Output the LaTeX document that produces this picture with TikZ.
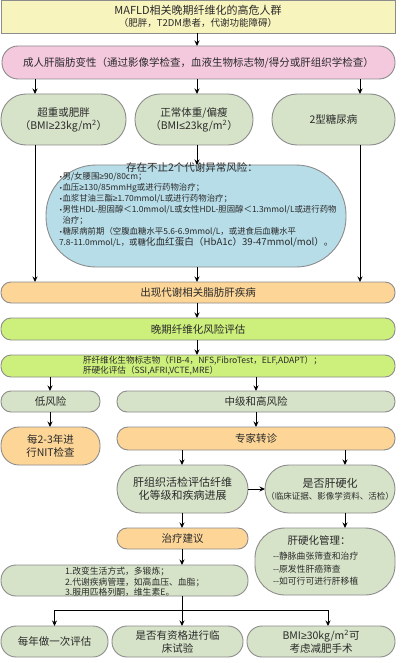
\documentclass[tikz,border=0pt]{standalone}
\usepackage{fontspec}
\setmainfont{Noto Sans CJK SC}
\newfontfamily\dvfont{DejaVu Sans}
\newfontfamily\lsfont{Liberation Sans}
\usetikzlibrary{arrows.meta}
\definecolor{yellowF}{HTML}{F8F4BE}
\definecolor{pinkF}{HTML}{F4C9DE}
\definecolor{greenF}{HTML}{D6E3C8}
\definecolor{blueF}{HTML}{B7DDE8}
\definecolor{orangeF}{HTML}{FCD597}
\definecolor{limeF}{HTML}{CDF07C}
\definecolor{bd}{HTML}{8C8C8C}
\definecolor{tx}{HTML}{2A2A2A}
\newcommand\szL{\fontsize{10.5pt}{13pt}\selectfont}
\newcommand\szB{\fontsize{11pt}{12.5pt}\selectfont}
\newcommand\szM{\fontsize{9.5pt}{11pt}\selectfont}
\newcommand\szS{\fontsize{8.4pt}{11pt}\selectfont}
\newcommand\bul{{\dvfont\fontsize{6pt}{6pt}\selectfont\raisebox{0.6pt}{•}}}
\newcommand\mge{{\lsfont ≥}}
\newcommand\mle{{\lsfont ≤}}
\begin{document}
\begin{tikzpicture}[x=1pt,y=-1pt,
  box/.style={draw=bd, line width=0.9pt, inner sep=0pt, outer sep=0pt, align=center, text=tx, font=\szL},
  lbl/.style={inner sep=0pt, outer sep=0pt, text=tx},
  arr/.style={-{Stealth[length=5.5pt,width=5pt]}, line width=0.9pt, draw=black},
  ln/.style={line width=0.9pt, draw=black}]
\useasboundingbox[fill=white] (0,0) rectangle (409,663);

% helper x positions
\coordinate (xa) at (35,0);
\coordinate (xb) at (197,0);
\coordinate (xc) at (360,0);
\coordinate (xd) at (50,0);
\coordinate (xe) at (256,0);
\coordinate (xf) at (182,0);
\coordinate (xg) at (345,0);
\coordinate (xh) at (328,0);

% boxes
\node[box, fill=yellowF, minimum width=394pt, minimum height=33pt] (top) at (198,16.5)
  {{\fontsize{11pt}{13pt}\selectfont MAFLD相关晚期纤维化的高危人群}\\[-1pt]{\szM （肥胖，T2DM患者，代谢功能障碍）}};
\node[box, fill=pinkF, minimum width=393pt, minimum height=33pt, rounded corners=16pt] (pink) at (198.5,62.5)
  {成人肝脂肪变性（通过影像学检查，血液生物标志物/得分或肝组织学检查）};
\node[box, fill=greenF, minimum width=125pt, minimum height=51pt, rounded corners=25pt] (g1) at (63.5,119.5)
  {超重或肥胖\\（BMI\mge 23kg/m\textsuperscript{2}）};
\node[box, fill=greenF, minimum width=118pt, minimum height=51pt, rounded corners=25pt] (g2) at (194,119.5)
  {正常体重/偏瘦\\（BMI\mle 23kg/m\textsuperscript{2}）};
\node[box, fill=greenF, minimum width=123pt, minimum height=51pt, rounded corners=25pt] (g3) at (333.5,119.5)
  {2型糖尿病};
\node[box, fill=blueF, minimum width=300pt, minimum height=102pt, rounded corners=50pt] (blue) at (196,216) {};
\node[lbl, font=\szL] (blueT) at (192,167) {存在不止2个代谢异常风险：};
\node[lbl, anchor=north west, align=left, font=\szS] (blueL) at (59,172.5) {%
  \bul 男/女腰围\mge 90/80cm；\\
  \bul 血压\mge 130/85mmHg或进行药物治疗；\\
  \bul 血浆甘油三酯\mge 1.70mmol/L或进行药物治疗；\\
  \bul 男性HDL-胆固醇＜1.0mmol/L或女性HDL-胆固醇＜1.3mmol/L或进行药物\\
  \phantom{\bul}治疗；\\
  \bul 糖尿病前期（空腹血糖水平5.6-6.9mmol/L，或进食后血糖水平\\
  7.8-11.0mmol/L，或糖{\fontsize{9.6pt}{11pt}\selectfont 化血红蛋白（HbA1c）39-47mmol/mol）。}};
\node[box, fill=orangeF, minimum width=394pt, minimum height=21pt, rounded corners=10pt] (or1) at (198,292.5)
  {出现代谢相关脂肪肝疾病};
\node[box, fill=limeF, minimum width=394pt, minimum height=22pt, rounded corners=10pt] (lime1) at (198,329)
  {晚期纤维化风险评估};
\node[box, fill=limeF, minimum width=394pt, minimum height=22pt, rounded corners=10pt] (lime2) at (198,366) {};
\node[lbl, anchor=north west, align=left, font={\fontsize{8.6pt}{10pt}\selectfont}] (lime2T) at (83,356.5) {%
  肝纤维化生物标志物（FIB-4，NFS,FibroTest，ELF,ADAPT）；\\
  肝硬化评估（SSI,AFRI,VCTE,MRE）};
\node[box, fill=greenF, minimum width=99pt, minimum height=21pt, rounded corners=10pt] (low) at (50.5,401.5)
  {低风险};
\node[box, fill=greenF, minimum width=278pt, minimum height=21pt, rounded corners=10pt] (mh) at (256,401.5)
  {中级和高风险};
\node[box, fill=orangeF, minimum width=99pt, minimum height=38pt, rounded corners=18pt] (nit) at (50.5,446)
  {每2-3年进\\行NIT检查};
\node[box, fill=orangeF, minimum width=278pt, minimum height=23pt, rounded corners=11pt] (zj) at (256,438.5)
  {专家转诊};
\node[box, fill=greenF, minimum width=131pt, minimum height=48pt, rounded corners=24pt, font=\szB] (bio) at (182.5,489)
  {肝组织活检评估纤维\\化等级和疾病进展};
\node[box, fill=greenF, minimum width=130pt, minimum height=48pt, rounded corners=24pt] (cir) at (330,489)
  {{\szB 是否肝硬化}\\[-1pt]{\fontsize{8.5pt}{9pt}\selectfont （临床证据、影像学资料、活检）}};
\node[box, fill=orangeF, minimum width=131pt, minimum height=21pt, rounded corners=10pt] (zl) at (182.5,538.5)
  {治疗建议};
\node[box, fill=greenF, minimum width=140pt, minimum height=67pt, rounded corners=30pt] (mg) at (325,561.5) {};
\node[lbl, font=\szL] (mgT) at (319,540) {肝硬化管理：};
\node[lbl, anchor=north west, align=left, font={\fontsize{8.8pt}{12.5pt}\selectfont}] (mgL) at (273,552.3) {%
  -{}-静脉曲张筛查和治疗\\
  -{}-原发性肝癌筛查\\
  -{}-如可行可进行肝移植};
\node[box, fill=greenF, minimum width=247pt, minimum height=31pt, rounded corners=15pt] (treat) at (124.5,580.5) {};
\node[lbl, anchor=north west, align=left, font={\fontsize{8.8pt}{10.5pt}\selectfont}] (treatT) at (65,567.3) {%
  1.改变生活方式，多锻炼；\\
  2.代谢疾病管理，如高血压、血脂；\\
  3.服用匹格列酮，维生素E。};
\node[box, fill=greenF, minimum width=107pt, minimum height=31pt, rounded corners=15pt] (b1) at (54.5,641.5)
  {每年做一次评估};
\node[box, fill=greenF, minimum width=131pt, minimum height=31pt, rounded corners=15pt] (b2) at (177.5,641.5)
  {是否有资格进行临\\床试验};
\node[box, fill=greenF, minimum width=148pt, minimum height=31pt, rounded corners=15pt] (b3) at (321,641.5)
  {BMI\mge 30kg/m\textsuperscript{2}可\\考虑减肥手术};

\coordinate (split) at (182,610);

% connectors
\draw[arr] (top.south -| xb) -- (pink.north -| xb);
\draw[arr] (pink.south -| xa) -- (g1.north -| xa);
\draw[arr] (pink.south -| xb) -- (g2.north -| xb);
\draw[arr] (pink.south -| xc) -- (g3.north -| xc);
\draw[arr] (g1.south -| xa) -- (or1.north -| xa);
\draw[arr] (g2.south -| xb) -- (blue.north -| xb);
\draw[arr] (blue.south -| xb) -- (or1.north -| xb);
\draw[arr] (g3.south -| xc) -- (or1.north -| xc);
\draw[arr] (or1.south -| xb) -- (lime1.north -| xb);
\draw[arr] (lime1.south -| xb) -- (lime2.north -| xb);
\draw[arr] (lime2.south -| xd) -- (low.north -| xd);
\draw[arr] (lime2.south -| xe) -- (mh.north -| xe);
\draw[arr] (low.south -| xd) -- (nit.north -| xd);
\draw[arr] (mh.south -| xe) -- (zj.north -| xe);
\draw[arr] (zj.south -| xf) -- (bio.north -| xf);
\draw[arr] (zj.south -| xg) -- (cir.north -| xg);
\draw[arr] (bio.east) -- (cir.west);
\draw[arr] (bio.south -| xf) -- (zl.north -| xf);
\draw[arr] (cir.south -| xg) -- (mg.north -| xg);
\draw[arr] (zl.south -| xf) -- (treat.north -| xf);
\draw[ln] (treat.south -| xf) -- (split);
\draw[arr] (split) -- (b2.north -| xf);
\draw[arr] (split) -| (b1.north);
\draw[arr] (split) -| (b3.north -| xh);
\end{tikzpicture}
\end{document}
